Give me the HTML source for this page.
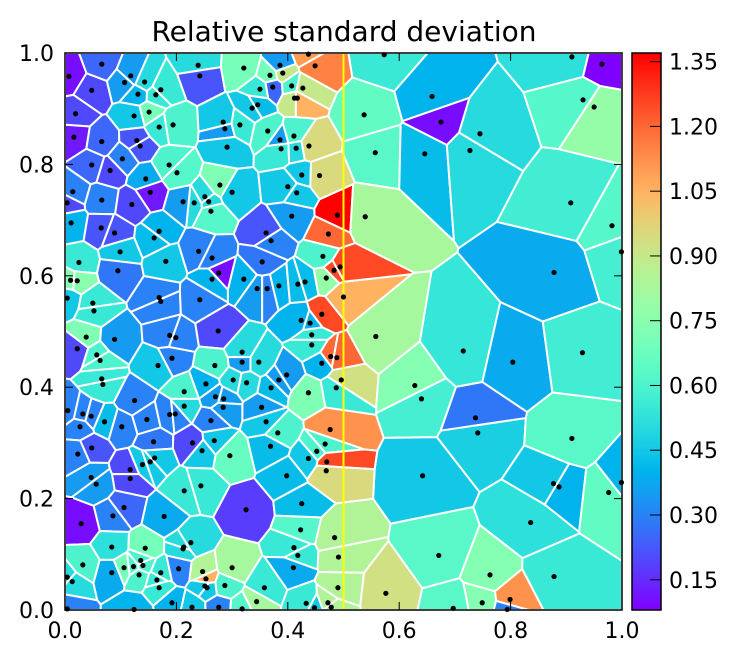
<!DOCTYPE html>
<html><head><meta charset="utf-8"><style>
body{margin:0;background:#fff;}
svg{display:block;font-family:"DejaVu Sans","Liberation Sans",sans-serif;}
</style></head><body>
<svg id="chart" width="740" height="663" viewBox="0 0 740 663">
<defs><linearGradient id="cbgrad" x1="0" y1="1" x2="0" y2="0"></linearGradient><clipPath id="plotclip"><rect x="65" y="53" width="557" height="557"/></clipPath></defs>
<text x="344" y="41" text-anchor="middle" font-size="28">Relative standard deviation</text>
<g id="cells" clip-path="url(#plotclip)"></g>
<line x1="343.5" y1="53" x2="343.5" y2="610" stroke="#ffff00" stroke-width="2"/>
<g id="dots"></g>
<rect x="65" y="53" width="557" height="557" fill="none" stroke="#000" stroke-width="1.5"/>
<g id="axes"></g>
<rect x="632" y="53" width="29" height="557" fill="url(#cbgrad)"/>
<rect x="632" y="53" width="29" height="557" fill="none" stroke="#000" stroke-width="1.5"/>
<g id="cbaxis"></g>
</svg>
<script>
const pointX=[.066,.007,.048,.118,.107,.143,.131,.172,.163,.239,.242,.321,.368,.386,.391,.373,.350,.407,.427,.412,.417,.449,.437,.019,.124,.151,.169,.194,.336,.346,.284,.287,.314,.016,.066,.129,.135,.103,.048,.081,.187,.201,.291,.364,.386,.388,.411,.415,.438,.145,.153,.014,.004,.066,.120,.278,.300,.251,.232,.258,.262,.212,.425,.457,.400,.416,.407,.489,.011,.065,.089,.169,.160,.361,.370,.473,.099,.025,.095,.181,.240,.264,.276,.264,.321,.354,.463,.483,.469,.010,.022,.004,.050,.052,.169,.172,.242,.345,.363,.384,.418,.431,.461,.424,.440,.500,
.573,.910,.964,.659,.537,.675,.745,.930,.950,.557,.646,.727,.908,.982,.999,.539,.878,.494,
.558,.715,.804,.929,.496,.628,.640,.737,.741,.910,.642,.877,.887,.976,.999,.836,.671,.763,.878,.576,.799,.749,.697,.794,
.038,.089,.022,.057,.063,.066,.068,.188,.199,.275,.192,.167,.269,.318,.318,.348,.443,.443,.461,.477,.488,.253,.302,.326,.384,.398,.370,.437,.487,.214,.125,.270,.285,.284,.214,.353,.005,.032,.047,.071,.102,.147,.188,.198,.262,.361,.027,.476,.159,.229,.268,.246,.382,.369,.048,.296,.023,.452,.467,.437,.470,.469,.161,.153,.139,.117,.117,.047,.056,.244,.214,.398,.325,.425,.178,.106,.086,.029,.423,.484,.084,.144,.226,.213,.212,.411,.418,.491,.032,.084,.106,.123,.136,.140,.133,.172,.204,.247,.253,.300,.410,.004,.013,.165,.169,.251,.255,.287,.358,.490,.192,.228,.276,.344,.318,.433,.472,.478,.448,.124,.004];
const pointY=[.980,.958,.933,.959,.947,.948,.926,.934,.925,.978,.959,.973,.960,.978,.964,.939,.935,.941,.937,.919,.919,.977,.998,.891,.887,.894,.867,.871,.901,.907,.876,.864,.871,.849,.841,.843,.833,.810,.799,.789,.799,.785,.831,.860,.844,.828,.851,.829,.833,.774,.750,.751,.731,.736,.728,.763,.750,.742,.731,.733,.716,.733,.781,.780,.760,.749,.707,.709,.695,.686,.677,.680,.668,.677,.663,.675,.643,.624,.609,.626,.644,.632,.605,.594,.594,.625,.635,.610,.596,.592,.591,.560,.551,.537,.561,.554,.557,.577,.577,.582,.585,.589,.531,.520,.515,.562,
.997,.993,.980,.922,.889,.876,.855,.916,.903,.821,.819,.825,.731,.690,.643,.706,.606,.616,
.491,.465,.445,.462,.413,.403,.379,.345,.318,.308,.241,.227,.221,.211,.229,.157,.098,.063,.060,.030,.019,.013,.003,.001,
.490,.486,.469,.458,.448,.415,.405,.493,.489,.501,.452,.439,.439,.463,.445,.445,.494,.476,.443,.455,.453,.406,.413,.408,.413,.422,.399,.390,.399,.392,.376,.383,.379,.364,.366,.364,.358,.352,.348,.338,.329,.342,.351,.352,.340,.338,.329,.324,.302,.300,.304,.286,.318,.294,.291,.277,.280,.285,.298,.272,.266,.250,.273,.266,.261,.252,.236,.238,.226,.223,.214,.241,.180,.191,.168,.184,.169,.155,.144,.130,.113,.111,.121,.113,.110,.112,.098,.095,.081,.067,.076,.078,.089,.080,.063,.067,.074,.069,.056,.076,.076,.059,.051,.054,.040,.043,.040,.044,.040,.040,.013,.005,.005,.015,.002,.012,.013,.005,.004,.001,.002];
const cellValue=[.25,.10,.20,.35,.35,.50,.40,.55,.55,.50,.22,.70,.70,.35,.90,.25,.55,.60,.90,.90,1.05,1.15,1.10,.20,.45,.70,.55,.60,.45,.42,.45,.35,.55,.12,.25,.22,.22,.30,.25,.20,.60,.62,.45,.60,.35,.55,.60,.50,.95,.38,.12,.30,.20,.30,.20,.72,.45,.50,.50,.50,.62,.35,.45,.95,.45,.45,.35,1.37,.40,.22,.22,.40,.42,.22,.30,1.20,.45,.55,.28,.45,.30,.30,.10,.40,.40,.28,.60,1.25,.78,.75,.75,.45,.55,.55,.30,.30,.30,.35,.30,.40,.42,.42,1.25,.40,.40,1.05,
.55,.52,.08,.40,.65,.10,.50,.62,.78,.63,.42,.50,.57,.62,.58,.83,.38,1.25,
.82,.54,.38,.57,.93,.74,.58,.28,.47,.63,.45,.45,.40,.65,.40,.52,.63,.74,.55,.93,1.12,.74,.63,.30,
.72,.35,.20,.60,.60,.55,.55,.30,.30,.20,.30,.45,.60,.50,.35,.50,.55,.55,.40,1.20,1.20,.40,.50,.50,.35,.35,.42,.72,.55,.60,.30,.35,.35,.35,.50,.35,.30,.30,.30,.42,.30,.30,.30,.30,.30,.45,.30,1.12,.28,.20,.45,.45,.60,.42,.22,.66,.30,.60,.60,.45,1.25,.95,.45,.45,.45,.20,.20,.35,.35,.55,.55,.42,.18,.42,.38,.25,.30,.10,.62,.85,.52,.70,.50,.50,.50,.55,.55,.85,.60,.38,.70,.60,.60,.60,.60,.55,.30,.85,1.05,.82,.38,.50,.50,.55,.55,.45,.45,.60,.55,.85,.40,.45,.30,.82,.62,.55,.85,.85,.45,.40,.30];
const xTicks=[0,0.2,0.4,0.6,0.8,1.0];
const yTicks=[0,0.2,0.4,0.6,0.8,1.0];
const cbTicks=[0.15,0.30,0.45,0.60,0.75,0.90,1.05,1.20,1.35];
const vMin=0.08,vMax=1.37;
const NS="http://www.w3.org/2000/svg";
const L=65,T=53,W=557,H=557;
const sx=v=>L+v*W, sy=v=>T+(1-v)*H;
function cmap(v){let t=(v-vMin)/(vMax-vMin);t=Math.max(0,Math.min(1,t));
 const c=x=>Math.round(255*Math.max(0,Math.min(1,x)));
 return `rgb(${c(Math.abs(2*t-0.5))},${c(Math.sin(Math.PI*t))},${c(Math.cos(Math.PI*t/2))})`;}
function mk(tag,attrs,parent){const e=document.createElementNS(NS,tag);for(const k in attrs)e.setAttribute(k,attrs[k]);parent.appendChild(e);return e;}
function clip(poly,a,b,c){const out=[];for(let i=0;i<poly.length;i++){const p=poly[i],q=poly[(i+1)%poly.length];const fp=a*p[0]+b*p[1]-c,fq=a*q[0]+b*q[1]-c;if(fp<=0)out.push(p);if((fp<0&&fq>0)||(fp>0&&fq<0)){const t=fp/(fp-fq);out.push([p[0]+t*(q[0]-p[0]),p[1]+t*(q[1]-p[1])]);}}return out;}
const cells=document.getElementById('cells'),dots=document.getElementById('dots');
const n=Math.min(pointX.length,pointY.length,cellValue.length);
for(let i=0;i<n;i++){
 let poly=[[0,0],[1,0],[1,1],[0,1]];
 const px=pointX[i],py=pointY[i];
 for(let j=0;j<n&&poly.length;j++){if(j===i)continue;const qx=pointX[j],qy=pointY[j];if(qx===px&&qy===py)continue;
  const a=qx-px,b=qy-py,c=(qx*qx+qy*qy-px*px-py*py)/2;poly=clip(poly,a,b,c);}
 if(poly.length<3)continue;
 const path=mk('polygon',{points:poly.map(p=>sx(p[0]).toFixed(2)+','+sy(p[1]).toFixed(2)).join(' '),fill:cmap(cellValue[i]),stroke:'#fff','stroke-width':'2','stroke-linejoin':'round'},cells);
 
 
}
for(let i=0;i<n;i++){
 const d=mk('circle',{cx:sx(pointX[i]),cy:sy(pointY[i]),r:2.6,fill:'#000'},dots);
 
 
}
const axes=document.getElementById('axes');
xTicks.forEach(v=>{const x=sx(v);
 mk('line',{x1:x,y1:T+H,x2:x,y2:T+H-8,stroke:'#000','stroke-width':1},axes);
 mk('line',{x1:x,y1:T,x2:x,y2:T+8,stroke:'#000','stroke-width':1},axes);
 const t=mk('text',{x:x,y:638,'text-anchor':'middle','font-size':22},axes);t.textContent=v.toFixed(1);
 
 });
yTicks.forEach(v=>{const y=sy(v);
 mk('line',{x1:L,y1:y,x2:L+8,y2:y,stroke:'#000','stroke-width':1},axes);
 mk('line',{x1:L+W,y1:y,x2:L+W-8,y2:y,stroke:'#000','stroke-width':1},axes);
 const t=mk('text',{x:54,y:y+8,'text-anchor':'end','font-size':22},axes);t.textContent=v.toFixed(1);
 
 });
const grad=document.getElementById('cbgrad');
for(let k=0;k<=40;k++){const v=vMin+(vMax-vMin)*k/40;mk('stop',{offset:(k/40*100)+'%','stop-color':cmap(v)},grad);}
const cb=document.getElementById('cbaxis');
cbTicks.forEach(v=>{const y=T+H-(v-vMin)/(vMax-vMin)*H;
 mk('line',{x1:661,y1:y,x2:650,y2:y,stroke:'#000','stroke-width':1},cb);
 const t=mk('text',{x:669,y:y+8,'font-size':22},cb);t.textContent=v.toFixed(2);
 
 });
</script>
</body></html>
